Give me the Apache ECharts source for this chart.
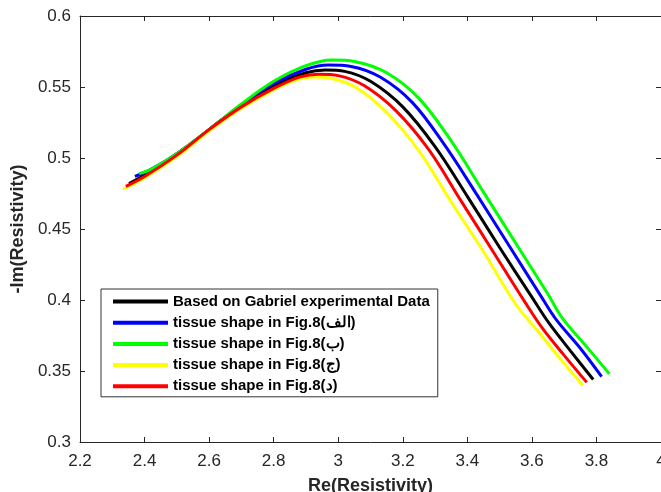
<!DOCTYPE html>
<html>
<head>
<meta charset="utf-8">
<script src="https://cdn.jsdelivr.net/npm/echarts@6/dist/echarts.min.js"></script>
<style>
html,body{margin:0;padding:0;background:#fff;}
#c{width:661px;height:492px;}
</style>
</head>
<body>
<div id="c"></div>
<script>
var seriesNames = [
  "Based on Gabriel experimental Data",
  "tissue shape in Fig.8(\u0627\u0644\u0641)",
  "tissue shape in Fig.8(\u0628)",
  "tissue shape in Fig.8(\u062c)",
  "tissue shape in Fig.8(\u062f)"
];
var seriesColors = ["#000000", "#0000ff", "#00ff00", "#ffff00", "#ff0000"];

var gabrielData = [
  [2.352,0.482],[2.40,0.488],[2.45,0.495],[2.50,0.503],[2.55,0.511],[2.60,0.520],
  [2.70,0.537],[2.80,0.551],[2.90,0.560],[2.96,0.562],[3.02,0.561],[3.10,0.554],
  [3.20,0.536],[3.30,0.508],[3.40,0.473],[3.50,0.437],[3.60,0.402],[3.652,0.384],
  [3.72,0.364],[3.79,0.344]
];
var shapeA = [
  [2.37,0.487],[2.42,0.492],[2.50,0.503],[2.60,0.520],[2.70,0.5375],[2.80,0.5525],
  [2.90,0.5625],[2.97,0.5655],[3.04,0.5645],[3.13,0.557],[3.23,0.539],[3.33,0.509],
  [3.43,0.474],[3.53,0.438],[3.63,0.402],[3.676,0.386],[3.75,0.366],[3.816,0.346]
];
var shapeB = [
  [2.383,0.489],[2.42,0.492],[2.50,0.503],[2.60,0.520],[2.70,0.538],[2.80,0.554],
  [2.90,0.565],[2.98,0.569],[3.05,0.568],[3.15,0.560],[3.25,0.542],[3.35,0.512],
  [3.45,0.476],[3.55,0.440],[3.65,0.404],[3.695,0.387],[3.77,0.367],[3.84,0.348]
];
var shapeJ = [
  [2.333,0.478],[2.40,0.486],[2.50,0.501],[2.60,0.519],[2.70,0.535],[2.80,0.548],
  [2.87,0.555],[2.92,0.557],[2.98,0.556],[3.06,0.549],[3.15,0.532],[3.25,0.505],
  [3.35,0.469],[3.45,0.434],[3.55,0.397],[3.615,0.379],[3.69,0.358],[3.757,0.340]
];
var shapeD = [
  [2.342,0.480],[2.40,0.487],[2.50,0.502],[2.60,0.520],[2.70,0.536],[2.80,0.549],
  [2.88,0.557],[2.94,0.559],[3.00,0.558],[3.08,0.551],[3.18,0.533],[3.28,0.506],
  [3.38,0.470],[3.48,0.434],[3.58,0.398],[3.633,0.380],[3.70,0.361],[3.77,0.342]
];
var seriesData = [gabrielData, shapeA, shapeB, shapeJ, shapeD];

var xTicks = {min: 2.2, max: 4.0, step: 0.2};
var yTicks = {min: 0.3, max: 0.6, step: 0.05};
var xTitle = "Re(Resistivity)";
var yTitle = "-Im(Resistivity)";

var axisColor = "#262626";
function fmt(v){ return String(Math.round(v*100)/100); }

var series = seriesData.map(function(d, i){
  return {
    name: seriesNames[i],
    type: 'line',
    data: d,
    smooth: 0.35,
    showSymbol: false,
    symbol: 'none',
    lineStyle: {color: seriesColors[i], width: 3},
    itemStyle: {color: seriesColors[i]},
    animation: false
  };
});

var chart = echarts.init(document.getElementById('c'), null, {renderer: 'canvas'});
chart.setOption({
  animation: false,
  backgroundColor: '#ffffff',
  grid: {left: 80, right: 0, top: 16, bottom: 50, containLabel: false, outerBoundsMode: 'none'},
  legend: {
    orient: 'vertical',
    left: 101, top: 289,
    padding: [5, 8, 3, 12],
    itemGap: 6.2,
    itemWidth: 55, itemHeight: 4,
    icon: 'rect',
    backgroundColor: '#ffffff',
    borderColor: '#333333', borderWidth: 1,
    textStyle: {fontFamily: 'Liberation Sans, Arial, sans-serif', fontWeight: 'bold', fontSize: 15, color: '#000'},
    data: seriesNames
  },
  xAxis: [{
    type: 'value', min: xTicks.min, max: xTicks.max, interval: xTicks.step,
    name: xTitle, nameLocation: 'middle', nameGap: 35,
    nameTextStyle: {fontFamily: 'Liberation Sans, Arial, sans-serif', fontWeight: 'bold', fontSize: 18, color: axisColor},
    axisLine: {show: true, onZero: false, lineStyle: {color: axisColor, width: 1}},
    axisTick: {show: true, inside: true, length: 5, lineStyle: {color: axisColor}},
    axisLabel: {fontFamily: 'Liberation Sans, Arial, sans-serif', fontSize: 17, color: axisColor, margin: 11, formatter: fmt, showMaxLabel: true},
    splitLine: {show: false}
  }, {
    type: 'value', position: 'top', min: xTicks.min, max: xTicks.max, interval: xTicks.step,
    axisLine: {show: true, onZero: false, lineStyle: {color: axisColor, width: 1}},
    axisTick: {show: true, inside: true, length: 5, lineStyle: {color: axisColor}},
    axisLabel: {show: false}, splitLine: {show: false}
  }],
  yAxis: [{
    type: 'value', min: yTicks.min, max: yTicks.max, interval: yTicks.step,
    name: yTitle, nameLocation: 'middle', nameGap: 48, nameRotate: 90,
    nameTextStyle: {fontFamily: 'Liberation Sans, Arial, sans-serif', fontWeight: 'bold', fontSize: 18, color: axisColor},
    axisLine: {show: true, onZero: false, lineStyle: {color: axisColor, width: 1}},
    axisTick: {show: true, inside: true, length: 5, lineStyle: {color: axisColor}},
    axisLabel: {fontFamily: 'Liberation Sans, Arial, sans-serif', fontSize: 17, color: axisColor, margin: 9, formatter: fmt},
    splitLine: {show: false}
  }, {
    type: 'value', position: 'right', min: yTicks.min, max: yTicks.max, interval: yTicks.step,
    axisLine: {show: true, onZero: false, lineStyle: {color: axisColor, width: 1}},
    axisTick: {show: true, inside: true, length: 5, lineStyle: {color: axisColor}},
    axisLabel: {show: false}, splitLine: {show: false}
  }],
  series: series
});
</script>
</body>
</html>
